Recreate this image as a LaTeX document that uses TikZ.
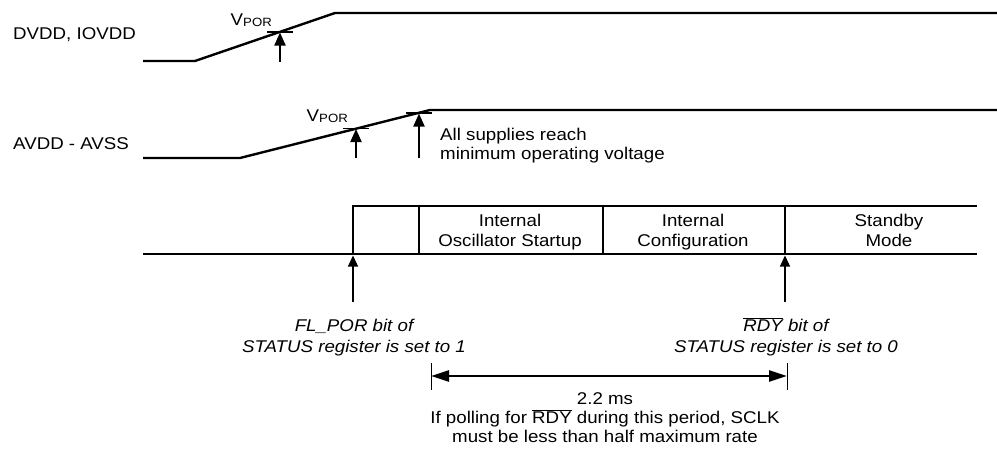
\documentclass[tikz,border=0pt]{standalone}
\usepackage{fontspec}
\setmainfont{Liberation Sans}[FakeStretch=1.1]
\usetikzlibrary{arrows.meta}
\newcommand\ovl[1]{\ensuremath{\overline{\mbox{#1}}}}
\newcommand\vpor{V\raisebox{-1pt}{\fontsize{12}{12}\selectfont POR}}
\begin{document}
\begin{tikzpicture}[x=1pt,y=-1pt,
  sig/.style={line width=2.4pt, line join=miter},
  uparr/.style={line width=2pt,-{Triangle[length=13pt,width=11pt]}},
  tickln/.style={line width=1.2pt},
  lowarr/.style={line width=1.2pt,-{Triangle[length=11pt,width=10pt]}},
  dimarr/.style={line width=2.4pt,{Triangle[length=18pt,width=11pt]}-{Triangle[length=18pt,width=11pt]}},
  dimbar/.style={line width=1pt},
  lbl/.style={font=\fontsize{17}{20}\selectfont, inner sep=0pt},
]
\useasboundingbox (0,0) rectangle (997,455);

% Row 1: DVDD, IOVDD
\node[lbl, anchor=base west] (lab1) at (13,39) {DVDD, IOVDD};
\coordinate (d0) at (143,61);
\coordinate (d1) at (195,61);
\coordinate (d2) at (335,13);
\coordinate (d3) at (997,13);
\draw[sig] (d0) -- (d1) -- (d2) -- (d3);
\coordinate (t1a) at (267,32);
\coordinate (t1b) at (293,32);
\draw[tickln] (t1a) -- (t1b);
\coordinate (a1b) at (280,62);
\coordinate (a1t) at (280,32.5);
\draw[uparr] (a1b) -- (a1t);
\node[lbl, anchor=base east] (vp1) at (272,25) {\vpor};

% Row 2: AVDD - AVSS
\node[lbl, anchor=base west] (lab2) at (13,149) {AVDD - AVSS};
\coordinate (e0) at (143,158);
\coordinate (e1) at (240,158);
\coordinate (e2) at (430,110);
\coordinate (e3) at (997,110);
\draw[sig] (e0) -- (e1) -- (e2) -- (e3);
\coordinate (t2a) at (343,128.5);
\coordinate (t2b) at (369,128.5);
\draw[tickln] (t2a) -- (t2b);
\coordinate (a2b) at (356,158);
\coordinate (a2t) at (356,129);
\draw[uparr] (a2b) -- (a2t);
\node[lbl, anchor=base east] (vp2) at (348,121) {\vpor};
\coordinate (t3a) at (406,113);
\coordinate (t3b) at (432,113);
\draw[tickln] (t3a) -- (t3b);
\coordinate (a3b) at (419,158);
\coordinate (a3t) at (419,113.5);
\draw[uparr] (a3b) -- (a3t);
\node[lbl, anchor=base west, align=left, font=\fontsize{17}{18.5}\selectfont] (allsup) at (440,159) {All supplies reach\\minimum operating voltage};

% Row 3: state bus
\coordinate (s0) at (143,254);
\coordinate (s1) at (977,254);
\coordinate (r0) at (353,254);
\coordinate (r1) at (353,206);
\coordinate (r2) at (977,206);
\draw[sig] (s0) -- (s1);
\draw[sig] (r0) -- (r1) -- (r2);
\coordinate (v1t) at (419,206); \coordinate (v1b) at (419,254);
\coordinate (v2t) at (603,206); \coordinate (v2b) at (603,254);
\coordinate (v3t) at (785,206); \coordinate (v3b) at (785,254);
\draw[sig] (v1t) -- (v1b);
\draw[sig] (v2t) -- (v2b);
\draw[sig] (v3t) -- (v3b);
\node[lbl, anchor=base, align=center] (osc) at (510,246.5) {Internal\\Oscillator Startup};
\node[lbl, anchor=base, align=center] (cfg) at (693,246.5) {Internal\\Configuration};
\node[lbl, anchor=base, align=center] (stb) at (889,246.5) {Standby\\Mode};

% Lower arrows and italic labels
\coordinate (la1) at (353,302);
\coordinate (la1t) at (353,255.5);
\draw[lowarr] (la1) -- (la1t);
\coordinate (la2) at (785,302);
\coordinate (la2t) at (785,255.5);
\draw[lowarr] (la2) -- (la2t);
\node[lbl, anchor=base, align=center, font=\fontsize{17}{21}\itshape] (flpor) at (354,352) {FL\_POR bit of\\STATUS register is set to 1};
\node[lbl, anchor=base, align=center, font=\fontsize{17}{21}\itshape] (rdy) at (786,352) {\ovl{RDY} bit of\\STATUS register is set to 0};

% Dimension
\coordinate (b1t) at (431,363); \coordinate (b1b) at (431,390);
\coordinate (b2t) at (787,363); \coordinate (b2b) at (787,390);
\draw[dimbar] (b1t) -- (b1b);
\draw[dimbar] (b2t) -- (b2b);
\coordinate (dl) at (431,376);
\coordinate (dr) at (787,376);
\draw[dimarr] (dl) -- (dr);
\node[lbl, anchor=base, align=center, font=\fontsize{17}{19}\selectfont] (note) at (605,442) {2.2 ms\\If polling for \ovl{RDY} during this period, SCLK\\must be less than half maximum rate};
\end{tikzpicture}
\end{document}
